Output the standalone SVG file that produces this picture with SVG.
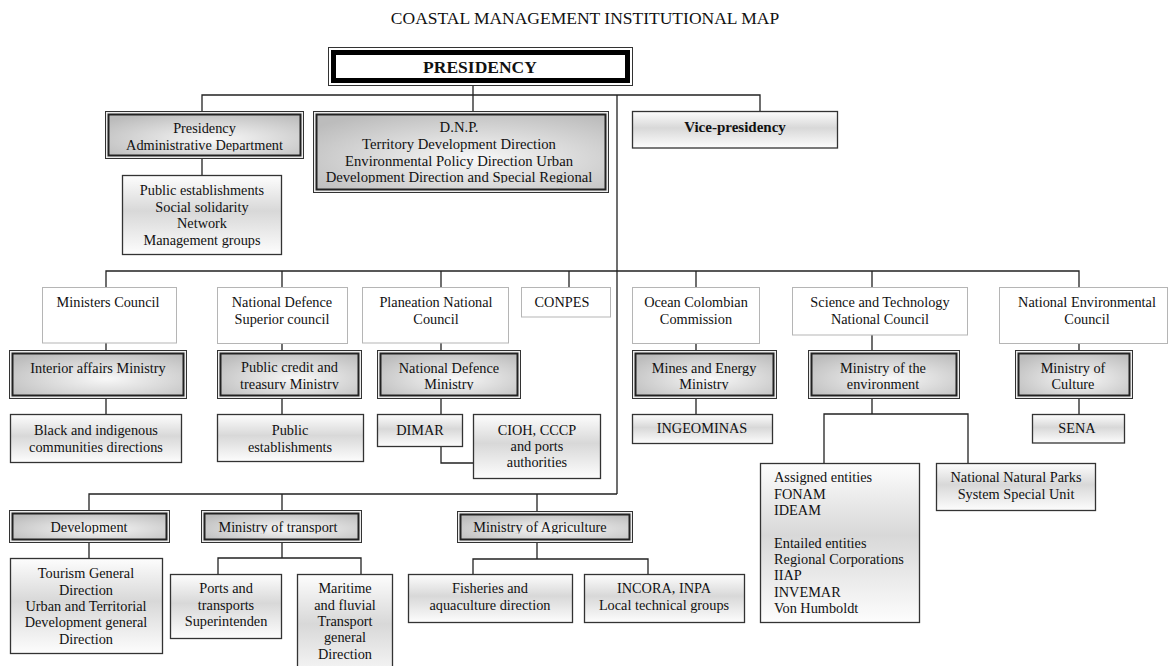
<svg xmlns="http://www.w3.org/2000/svg" width="1171" height="666" viewBox="0 0 1171 666">
<style>
.t{font-family:"Liberation Serif","Times New Roman",serif;font-size:14.3px;fill:#111;text-anchor:middle}
.s{text-anchor:start}
.b{font-weight:bold}
.ln{fill:none;stroke:#222;stroke-width:1.3}
.single{fill:url(#g1);stroke:#333;stroke-width:1.3}
.council{fill:#fff;stroke:#b5b5b5;stroke-width:1}
.dbo{fill:#ececec;stroke:#333;stroke-width:1}
.dbi{fill:url(#g2);stroke:#222;stroke-width:2}
</style>
<defs>
<linearGradient id="g1" x1="0" y1="0" x2="0" y2="1">
<stop offset="0" stop-color="#fdfdfd"/>
<stop offset="0.45" stop-color="#d8d8d8"/>
<stop offset="1" stop-color="#fdfdfd"/>
</linearGradient>
<radialGradient id="g2" cx="0.55" cy="0.6" r="0.7">
<stop offset="0" stop-color="#f8f8f8"/>
<stop offset="1" stop-color="#bcbcbc"/>
</radialGradient>
<clipPath id="cAdmin"><rect x="110" y="116" width="189" height="35.5"/></clipPath>
<clipPath id="cDnp"><rect x="318" y="116" width="286" height="67"/></clipPath>
<clipPath id="cCredit"><rect x="222" y="355" width="135" height="34.5"/></clipPath>
<clipPath id="cNdm"><rect x="382" y="355" width="134" height="35"/></clipPath>
<clipPath id="cMines"><rect x="637" y="355" width="135" height="35"/></clipPath>
<clipPath id="cDev"><rect x="14" y="515" width="151" height="18.5"/></clipPath>
<clipPath id="cTrans"><rect x="206" y="515" width="151" height="18.5"/></clipPath>
<clipPath id="cAgri"><rect x="462" y="516" width="166" height="17.5"/></clipPath>
</defs>
<rect width="1171" height="666" fill="#fff"/>
<text class="t" x="585" y="24" style="font-size:17.5px">COASTAL MANAGEMENT INSTITUTIONAL MAP</text>

<g id="connectors">
<path class="ln" d="M473 86V111M202 111V95H760V111M617 95V494M202 159V175"/>
<path class="ln" d="M106 287V271H1079V287M282 271V287M441 271V287M569 271V287M696 271V287M872 271V287"/>
<path class="ln" d="M106 343V350M282 344V350M441 343V350M696 344V350M872 335V350M1079 344V350"/>
<path class="ln" d="M106 399V414M282 399V414M441 399V414M696 399V414M1079 399V414M441 447V463H473"/>
<path class="ln" d="M872 399V414M824 463V414H968V463"/>
<path class="ln" d="M89 510V494H617M282 494V510M537 494V511"/>
<path class="ln" d="M89 543V558M282 543V558M218 574V558H361V574M537 543V559M473 574V559H648V574"/>
</g>

<g id="presidency">
<rect x="328.5" y="47.5" width="304" height="38" fill="#fff" stroke="#333" stroke-width="1"/>
<rect x="333.5" y="52.5" width="294" height="28" fill="#fff" stroke="#000" stroke-width="5"/>
<text class="t b" x="480" y="73" style="font-size:17.5px">PRESIDENCY</text>
</g>

<g id="admin-dept">
<rect class="dbo" x="105.5" y="111.5" width="198" height="47"/>
<rect class="dbi" x="108.5" y="114.5" width="192" height="41"/>
<g clip-path="url(#cAdmin)">
<text class="t" x="204.5" y="133">Presidency</text>
<text class="t" x="204.5" y="150">Administrative Department</text>
</g>
</g>

<g id="dnp">
<rect class="dbo" x="313.5" y="111.5" width="295" height="81"/>
<rect class="dbi" x="316.5" y="114.5" width="289" height="75"/>
<g clip-path="url(#cDnp)" style="font-size:14.7px">
<text class="t" x="459" y="132" style="font-size:14.7px">D.N.P.</text>
<text class="t" x="459" y="149" style="font-size:14.7px">Territory Development Direction</text>
<text class="t" x="459" y="166" style="font-size:14.7px">Environmental Policy Direction Urban</text>
<text class="t" x="459" y="182.3" style="font-size:14.7px">Development Direction and Special Regional</text>
</g>
</g>

<g id="vice-presidency">
<rect class="single" x="632.5" y="111.5" width="205" height="36.5"/>
<text class="t b" x="735" y="132" style="font-size:15px">Vice-presidency</text>
</g>

<g id="public-est-1">
<rect class="single" x="122.5" y="175.5" width="159" height="79"/>
<text class="t" x="202" y="195">Public establishments</text>
<text class="t" x="202" y="211.5">Social solidarity</text>
<text class="t" x="202" y="228">Network</text>
<text class="t" x="202" y="244.5">Management groups</text>
</g>

<g id="ministers-council">
<rect class="council" x="42.5" y="287.5" width="134" height="55.5"/>
<text class="t" x="108" y="307">Ministers Council</text>
</g>
<g id="defence-superior-council">
<rect class="council" x="217.5" y="287.5" width="130" height="56"/>
<text class="t" x="282" y="307">National Defence</text>
<text class="t" x="282" y="323.5">Superior council</text>
</g>
<g id="planeation-council">
<rect class="council" x="362.5" y="287.5" width="146" height="55.5"/>
<text class="t" x="436" y="307">Planeation National</text>
<text class="t" x="436" y="323.5">Council</text>
</g>
<g id="conpes">
<rect class="council" x="521.5" y="287.5" width="89" height="29.5"/>
<text class="t" x="562" y="307">CONPES</text>
</g>
<g id="ocean-commission">
<rect class="council" x="632.5" y="287.5" width="127" height="56"/>
<text class="t" x="696" y="307">Ocean Colombian</text>
<text class="t" x="696" y="323.5">Commission</text>
</g>
<g id="science-council">
<rect class="council" x="792.5" y="287.5" width="175" height="47.5"/>
<text class="t" x="880" y="307">Science and Technology</text>
<text class="t" x="880" y="323.5">National Council</text>
</g>
<g id="environmental-council">
<rect class="council" x="999.5" y="287.5" width="168" height="56"/>
<text class="t" x="1087" y="307">National Environmental</text>
<text class="t" x="1087" y="323.5">Council</text>
</g>

<g id="interior-ministry">
<rect class="dbo" x="9.5" y="350.5" width="177" height="48"/>
<rect class="dbi" x="12.5" y="353.5" width="171" height="42"/>
<text class="t" x="98" y="373">Interior affairs Ministry</text>
</g>
<g id="treasury-ministry">
<rect class="dbo" x="217.5" y="350.5" width="144" height="48"/>
<rect class="dbi" x="220.5" y="353.5" width="138" height="42"/>
<g clip-path="url(#cCredit)">
<text class="t" x="289.5" y="372">Public credit and</text>
<text class="t" x="289.5" y="388.5">treasury Ministry</text>
</g>
</g>
<g id="defence-ministry">
<rect class="dbo" x="377.5" y="350.5" width="143" height="48"/>
<rect class="dbi" x="380.5" y="353.5" width="137" height="42"/>
<g clip-path="url(#cNdm)">
<text class="t" x="449" y="373">National Defence</text>
<text class="t" x="449" y="389">Ministry</text>
</g>
</g>
<g id="mines-ministry">
<rect class="dbo" x="632.5" y="350.5" width="144" height="48"/>
<rect class="dbi" x="635.5" y="353.5" width="138" height="42"/>
<g clip-path="url(#cMines)">
<text class="t" x="704" y="373">Mines and Energy</text>
<text class="t" x="704" y="389">Ministry</text>
</g>
</g>
<g id="environment-ministry">
<rect class="dbo" x="808.5" y="350.5" width="151" height="48"/>
<rect class="dbi" x="811.5" y="353.5" width="145" height="42"/>
<text class="t" x="883" y="373">Ministry of the</text>
<text class="t" x="883" y="389">environment</text>
</g>
<g id="culture-ministry">
<rect class="dbo" x="1015.5" y="350.5" width="117" height="48"/>
<rect class="dbi" x="1018.5" y="353.5" width="111" height="42"/>
<text class="t" x="1073" y="373">Ministry of</text>
<text class="t" x="1073" y="389">Culture</text>
</g>

<g id="black-indigenous">
<rect class="single" x="10.5" y="414.5" width="171" height="48"/>
<text class="t" x="96" y="435">Black and indigenous</text>
<text class="t" x="96" y="452">communities directions</text>
</g>
<g id="public-est-2">
<rect class="single" x="217.5" y="414.5" width="146" height="47"/>
<text class="t" x="290" y="435">Public</text>
<text class="t" x="290" y="452">establishments</text>
</g>
<g id="dimar">
<rect class="single" x="377.5" y="414.5" width="85" height="32"/>
<text class="t" x="420" y="435">DIMAR</text>
</g>
<g id="cioh">
<rect class="single" x="473.5" y="414.5" width="127" height="64"/>
<text class="t" x="537" y="435">CIOH, CCCP</text>
<text class="t" x="537" y="451">and ports</text>
<text class="t" x="537" y="467">authorities</text>
</g>
<g id="ingeominas">
<rect class="single" x="632.5" y="414.5" width="140" height="29"/>
<text class="t" x="702" y="433">INGEOMINAS</text>
</g>
<g id="sena">
<rect class="single" x="1032.5" y="414.5" width="92" height="28.5"/>
<text class="t" x="1077" y="433">SENA</text>
</g>
<g id="assigned-entities">
<rect class="single" x="760.5" y="463.5" width="159" height="159"/>
<text class="t s" x="774" y="482">Assigned entities</text>
<text class="t s" x="774" y="498.5">FONAM</text>
<text class="t s" x="774" y="515">IDEAM</text>
<text class="t s" x="774" y="547.5">Entailed entities</text>
<text class="t s" x="774" y="564">Regional Corporations</text>
<text class="t s" x="774" y="580">IIAP</text>
<text class="t s" x="774" y="596.5">INVEMAR</text>
<text class="t s" x="774" y="613">Von Humboldt</text>
</g>
<g id="natural-parks">
<rect class="single" x="936.5" y="463.5" width="159" height="47"/>
<text class="t" x="1016" y="482">National Natural Parks</text>
<text class="t" x="1016" y="498.5">System Special Unit</text>
</g>

<g id="development">
<rect class="dbo" x="9.5" y="510.5" width="160" height="32"/>
<rect class="dbi" x="12.5" y="513.5" width="154" height="26"/>
<g clip-path="url(#cDev)">
<text class="t" x="89" y="532">Development</text>
</g>
</g>
<g id="transport-ministry">
<rect class="dbo" x="201.5" y="510.5" width="160" height="32"/>
<rect class="dbi" x="204.5" y="513.5" width="154" height="26"/>
<g clip-path="url(#cTrans)">
<text class="t" x="278" y="532">Ministry of transport</text>
</g>
</g>
<g id="agriculture-ministry">
<rect class="dbo" x="457.5" y="511.5" width="175" height="31"/>
<rect class="dbi" x="460.5" y="514.5" width="169" height="25"/>
<g clip-path="url(#cAgri)">
<text class="t" x="540" y="532">Ministry of Agriculture</text>
</g>
</g>
<g id="tourism">
<rect class="single" x="10.5" y="558.5" width="152" height="95"/>
<text class="t" x="86" y="578">Tourism General</text>
<text class="t" x="86" y="594.5">Direction</text>
<text class="t" x="86" y="611">Urban and Territorial</text>
<text class="t" x="86" y="627">Development general</text>
<text class="t" x="86" y="643.5">Direction</text>
</g>
<g id="ports">
<rect class="single" x="170.5" y="574.5" width="111" height="64"/>
<text class="t" x="226" y="593">Ports and</text>
<text class="t" x="226" y="610">transports</text>
<text class="t" x="226" y="626">Superintenden</text>
</g>
<g id="maritime">
<rect class="single" x="297.5" y="574.5" width="95" height="110"/>
<text class="t" x="345" y="593">Maritime</text>
<text class="t" x="345" y="609.5">and fluvial</text>
<text class="t" x="345" y="626">Transport</text>
<text class="t" x="345" y="642">general</text>
<text class="t" x="345" y="658.5">Direction</text>
</g>
<g id="fisheries">
<rect class="single" x="408.5" y="574.5" width="164" height="48"/>
<text class="t" x="490" y="593">Fisheries and</text>
<text class="t" x="490" y="610">aquaculture direction</text>
</g>
<g id="incora">
<rect class="single" x="584.5" y="574.5" width="160" height="48"/>
<text class="t" x="664" y="593">INCORA, INPA</text>
<text class="t" x="664" y="610">Local technical groups</text>
</g>
</svg>
